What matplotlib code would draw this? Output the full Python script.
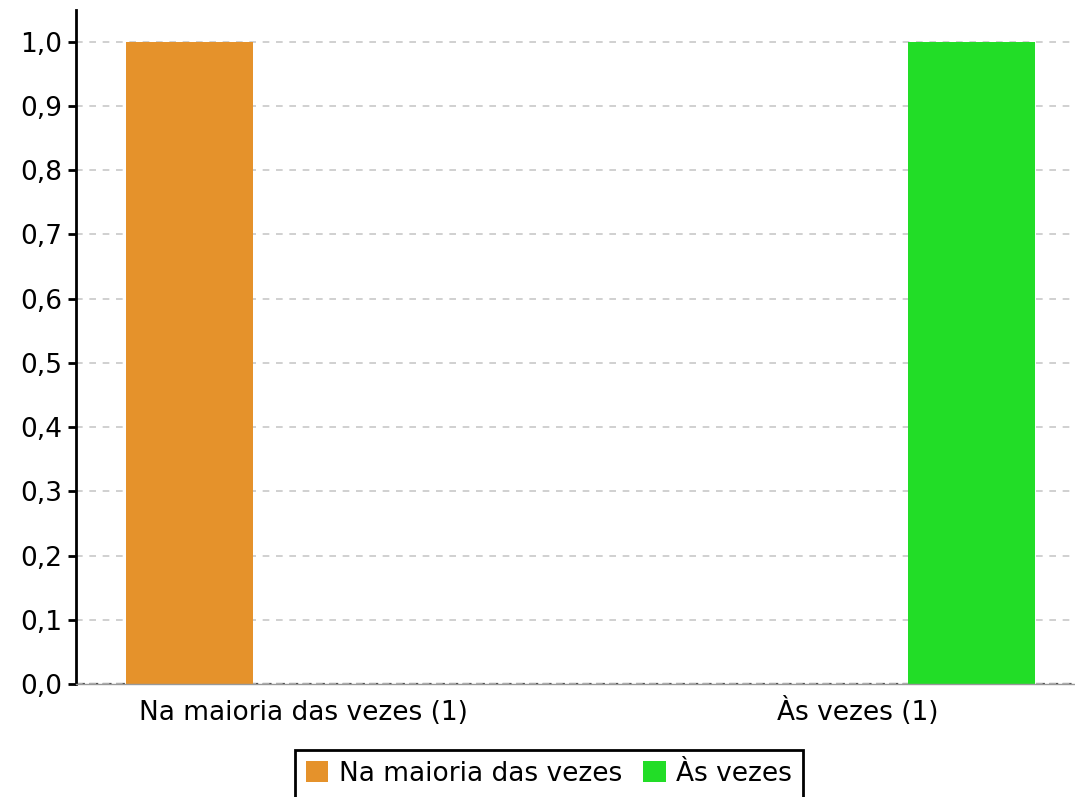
import numpy as np
import matplotlib
matplotlib.use('Agg')
import matplotlib.pyplot as plt
from matplotlib.ticker import FuncFormatter, MultipleLocator

categorias = ['Na maioria das vezes (1)', 'Às vezes (1)']
series = ['Na maioria das vezes', 'Às vezes']
valores = {
    'Na maioria das vezes': [1, 0],
    'Às vezes': [0, 1],
}
cores = ['#e5922b', '#22dd27']

plt.rcParams['font.family'] = 'DejaVu Sans'

fig = plt.figure(figsize=(10.75, 7.97), dpi=100)
ax = fig.add_axes([0.0707, 0.1418, 0.93, 0.846])

x = np.arange(len(categorias))
largura = 0.229
desloc = 0.205
for i, (nome, cor) in enumerate(zip(series, cores)):
    pos = x + (i - 0.5) * 2 * desloc
    ax.bar(pos, valores[nome], width=largura, color=cor, label=nome, zorder=2)

ax.set_xlim(-0.41, 1.393)
ax.set_ylim(0, 1.05)
ax.yaxis.set_major_locator(MultipleLocator(0.1))
ax.yaxis.set_major_formatter(FuncFormatter(lambda v, p: f'{v:.1f}'.replace('.', ',')))
ax.set_xticks(x)
ax.set_xticklabels(categorias)
for rotulo in ax.get_xticklabels():
    rotulo.set_verticalalignment('baseline')

ax.grid(axis='y', color='#c8c8c8', linestyle=(0, (4, 4)), linewidth=1.2, zorder=0)
ax.axhline(0, color='#444444', linestyle=(0, (4, 2)), linewidth=1.6, zorder=1)

ax.spines['top'].set_visible(False)
ax.spines['right'].set_visible(False)
ax.spines['left'].set_linewidth(2)
ax.spines['bottom'].set_color('#999999')
ax.spines['bottom'].set_linewidth(1)
ax.spines['bottom'].set_zorder(3)

ax.tick_params(axis='y', labelsize=19, length=6, width=2, pad=4)
ax.tick_params(axis='x', labelsize=19, length=0, pad=26)

leg = ax.legend(loc='upper center', bbox_to_anchor=(0.473, -0.079), ncol=2,
                fontsize=19, frameon=True, fancybox=False, edgecolor='black',
                framealpha=1, handlelength=0.85, handleheight=0.85,
                handletextpad=0.4, columnspacing=0.8, borderpad=0.4)
leg.get_frame().set_linewidth(2)

fig.savefig('out.png', dpi=100)
